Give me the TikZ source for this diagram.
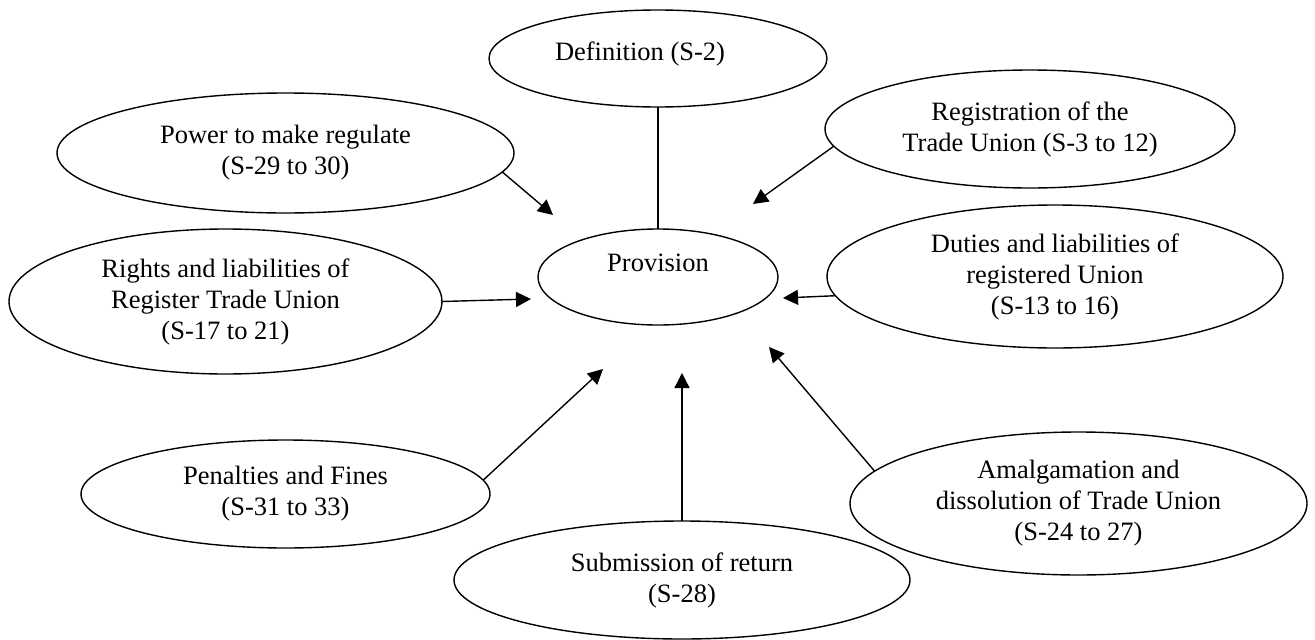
\documentclass[tikz,border=0pt]{standalone}
\usepackage{fontspec}
\setmainfont{Liberation Serif}
\usetikzlibrary{shapes.geometric,arrows.meta}
\begin{document}
\begin{tikzpicture}[x=1pt,y=-1pt,
  bub/.style={ellipse, draw, line width=1.4pt, inner sep=1pt, outer sep=0pt,
    align=center, font=\fontsize{26.5}{31}\selectfont},
  link/.style={line width=1.4pt},
  arr/.style={line width=1.4pt, -{Triangle[length=15pt,width=15pt]}}
]
\useasboundingbox (0,0) rectangle (1315,640);

\node[bub, minimum width=338pt, minimum height=97pt] (def) at (658,58.5)
  {\raisebox{5pt}[\height][\depth]{\kern-18pt Definition (S-2)\kern18pt}};
\node[bub, minimum width=457pt, minimum height=120pt] (pow) at (285.5,153)
  {Power to make regulate\\(S-29 to 30)};
\node[bub, minimum width=410pt, minimum height=118pt] (reg) at (1030,129)
  {Registration of the\\Trade Union (S-3 to 12)};
\node[bub, minimum width=240pt, minimum height=96pt] (prov) at (658,277)
  {\raisebox{14pt}[\height][\depth]{Provision}};
\node[bub, minimum width=433pt, minimum height=145pt] (rights) at (225.5,301.5)
  {Rights and liabilities of\\Register Trade Union\\(S-17 to 21)};
\node[bub, minimum width=456pt, minimum height=143pt] (duties) at (1055,276.5)
  {Duties and liabilities of\\registered Union\\(S-13 to 16)};
\node[bub, minimum width=409pt, minimum height=108pt] (pen) at (285.5,494)
  {Penalties and Fines\\(S-31 to 33)};
\node[bub, minimum width=456pt, minimum height=118pt] (sub) at (682,580)
  {Submission of return\\(S-28)};
\node[bub, minimum width=457pt, minimum height=143pt] (amal) at (1078.5,503.5)
  {Amalgamation and\\dissolution of Trade Union\\(S-24 to 27)};

\coordinate (tpow) at (553,215);
\coordinate (treg) at (753,204);
\coordinate (trig) at (531,299);
\coordinate (tdut) at (783,298);
\coordinate (tpen) at (603,369);
\coordinate (tsub) at (682,373);
\coordinate (tamal) at (769,347);

\draw[link] (def.south) -- (prov.north);
\draw[arr] (pow.-5.8) -- (tpow);
\draw[arr] (reg.185.2) -- (treg);
\draw[arr] (rights.0.66) -- (trig);
\draw[arr] (duties.185.6) -- (tdut);
\draw[arr] (pen.4.3) -- (tpen);
\draw[arr] (sub.north) -- (tsub);
\draw[arr] (amal.171.3) -- (tamal);
\end{tikzpicture}
\end{document}
